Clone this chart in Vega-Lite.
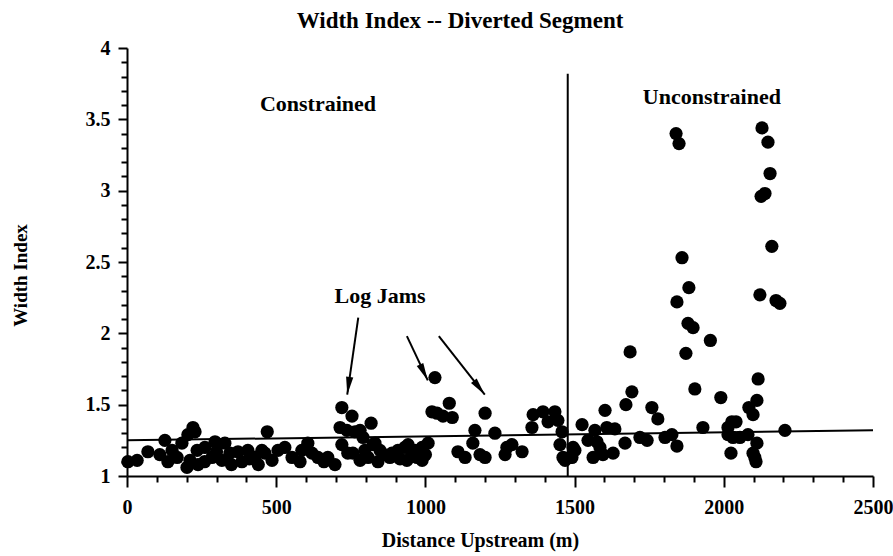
{
  "$schema": "https://vega.github.io/schema/vega-lite/v6.json",
  "width": 746,
  "height": 428,
  "autosize": "none",
  "padding": {"left": 127, "top": 48, "right": 20, "bottom": 80},
  "background": "white",
  "title": {"text": "Width Index -- Diverted Segment", "font": "Liberation Serif", "fontSize": 23, "fontWeight": "bold", "color": "black", "dx": -40, "offset": 5},
  "config": {"view": {"stroke": null}},
  "datasets": {
    "pts": [
      {"d":3,"w":1.10},{"d":34,"w":1.11},{"d":70,"w":1.17},{"d":110,"w":1.15},{"d":127,"w":1.25},{"d":137,"w":1.10},{"d":151,"w":1.18},{"d":168,"w":1.13},{"d":184,"w":1.23},{"d":201,"w":1.06},{"d":204,"w":1.29},{"d":211,"w":1.11},{"d":221,"w":1.34},{"d":228,"w":1.31},{"d":235,"w":1.18},{"d":238,"w":1.08},{"d":260,"w":1.10},{"d":261,"w":1.20},{"d":285,"w":1.13},{"d":295,"w":1.24},{"d":300,"w":1.17},{"d":318,"w":1.11},{"d":328,"w":1.23},{"d":345,"w":1.16},{"d":350,"w":1.08},{"d":372,"w":1.17},{"d":385,"w":1.10},{"d":405,"w":1.18},{"d":410,"w":1.12},{"d":429,"w":1.13},{"d":440,"w":1.08},{"d":452,"w":1.18},{"d":462,"w":1.16},{"d":470,"w":1.31},{"d":486,"w":1.11},
      {"d":506,"w":1.18},{"d":529,"w":1.20},{"d":553,"w":1.13},{"d":580,"w":1.10},{"d":586,"w":1.18},{"d":606,"w":1.23},{"d":620,"w":1.16},{"d":640,"w":1.13},{"d":660,"w":1.10},{"d":673,"w":1.13},{"d":697,"w":1.08},{"d":714,"w":1.34},{"d":720,"w":1.48},{"d":720,"w":1.22},{"d":737,"w":1.32},{"d":740,"w":1.16},{"d":754,"w":1.42},{"d":757,"w":1.16},{"d":764,"w":1.31},{"d":781,"w":1.32},{"d":781,"w":1.11},{"d":791,"w":1.27},{"d":797,"w":1.18},{"d":808,"w":1.13},{"d":818,"w":1.37},{"d":824,"w":1.22},{"d":831,"w":1.23},{"d":841,"w":1.10},{"d":848,"w":1.18},{"d":860,"w":1.15},{"d":881,"w":1.13},{"d":888,"w":1.16},{"d":908,"w":1.18},{"d":915,"w":1.12},{"d":931,"w":1.20},{"d":938,"w":1.11},{"d":942,"w":1.22},{"d":955,"w":1.16},{"d":965,"w":1.18},{"d":972,"w":1.13},{"d":989,"w":1.11},{"d":989,"w":1.20},{"d":1000,"w":1.15},
      {"d":1009,"w":1.23},{"d":1022,"w":1.45},{"d":1032,"w":1.69},{"d":1039,"w":1.44},{"d":1059,"w":1.42},{"d":1080,"w":1.51},{"d":1090,"w":1.41},{"d":1109,"w":1.17},{"d":1133,"w":1.13},{"d":1159,"w":1.23},{"d":1166,"w":1.32},{"d":1183,"w":1.15},{"d":1200,"w":1.44},{"d":1200,"w":1.13},{"d":1233,"w":1.30},{"d":1267,"w":1.15},{"d":1273,"w":1.20},{"d":1290,"w":1.22},{"d":1324,"w":1.17},{"d":1357,"w":1.34},{"d":1361,"w":1.43},{"d":1394,"w":1.45},{"d":1411,"w":1.38},{"d":1434,"w":1.45},{"d":1444,"w":1.39},{"d":1451,"w":1.22},{"d":1458,"w":1.31},{"d":1461,"w":1.13},{"d":1468,"w":1.11},
      {"d":1484,"w":1.13},{"d":1491,"w":1.13},{"d":1495,"w":1.20},{"d":1501,"w":1.18},{"d":1525,"w":1.36},{"d":1545,"w":1.25},{"d":1562,"w":1.13},{"d":1568,"w":1.32},{"d":1575,"w":1.24},{"d":1585,"w":1.20},{"d":1595,"w":1.15},{"d":1602,"w":1.46},{"d":1608,"w":1.34},{"d":1629,"w":1.16},{"d":1635,"w":1.33},{"d":1669,"w":1.23},{"d":1672,"w":1.50},{"d":1686,"w":1.87},{"d":1692,"w":1.59},{"d":1719,"w":1.27},{"d":1743,"w":1.25},{"d":1759,"w":1.48},{"d":1779,"w":1.40},{"d":1803,"w":1.27},{"d":1826,"w":1.29},{"d":1840,"w":3.40},{"d":1843,"w":1.21},{"d":1843,"w":2.22},{"d":1850,"w":3.33},{"d":1860,"w":2.53},{"d":1873,"w":1.86},{"d":1880,"w":2.07},{"d":1883,"w":2.32},{"d":1897,"w":2.04},{"d":1903,"w":1.61},{"d":1930,"w":1.34},{"d":1955,"w":1.95},{"d":1990,"w":1.55},{"d":2014,"w":1.34},{"d":2014,"w":1.29},{"d":2024,"w":1.16},{"d":2027,"w":1.38},{"d":2031,"w":1.27},{"d":2041,"w":1.38},{"d":2054,"w":1.27},{"d":2081,"w":1.29},{"d":2084,"w":1.48},{"d":2098,"w":1.43},{"d":2098,"w":1.16},{"d":2104,"w":1.13},{"d":2108,"w":1.10},{"d":2111,"w":1.53},{"d":2111,"w":1.23},{"d":2115,"w":1.68},{"d":2121,"w":2.27},{"d":2125,"w":2.96},{"d":2128,"w":3.44},{"d":2138,"w":2.98},{"d":2148,"w":3.34},{"d":2155,"w":3.12},{"d":2161,"w":2.61},{"d":2175,"w":2.23},{"d":2188,"w":2.21},{"d":2205,"w":1.32}
    ],
    "trend": [{"d":0,"w":1.25,"d2":2500,"w2":1.32}],
    "divider": [{"d":1477,"w":1.0,"d2":1477,"w2":3.82}],
    "labels": [
      {"d":640,"w":3.61,"t":"Constrained"},
      {"d":1960,"w":3.66,"t":"Unconstrained"},
      {"d":848,"w":2.26,"t":"Log Jams"}
    ],
    "arrows": [
      {"id":1,"d":775,"w":2.11,"d2":738,"w2":1.57},
      {"id":2,"d":938,"w":1.98,"d2":1008,"w2":1.67},
      {"id":3,"d":1045,"w":1.98,"d2":1199,"w2":1.57}
    ],
    "heads": [
      {"id":1,"d":738,"w":1.57},
      {"id":2,"d":1008,"w":1.67},
      {"id":3,"d":1199,"w":1.57}
    ]
  },
  "encoding": {
    "x": {"field": "d", "type": "quantitative", "scale": {"domain": [0, 2500], "nice": false, "zero": false},
      "axis": {"title": "Distance Upstream (m)", "values": [0,100,200,300,400,500,600,700,800,900,1000,1100,1200,1300,1400,1500,1600,1700,1800,1900,2000,2100,2200,2300,2400,2500],
        "labelExpr": "datum.value % 500 === 0 ? datum.label : ''", "format": "d", "labelOverlap": false, "labelFlush": false,
        "grid": false, "domainColor": "black", "domainWidth": 2, "tickColor": "black", "tickWidth": 2,
        "tickSize": {"condition": {"test": "datum.value % 500 === 0", "value": 11}, "value": 6},
        "labelFont": "Liberation Serif", "labelFontSize": 20, "labelFontWeight": "bold", "labelColor": "black", "labelPadding": 10,
        "titleFont": "Liberation Serif", "titleFontSize": 20, "titleFontWeight": "bold", "titleColor": "black",
        "titleX": 353, "titleY": 70, "titleAlign": "center", "titleBaseline": "alphabetic"}},
    "y": {"field": "w", "type": "quantitative", "scale": {"domain": [1, 4], "nice": false, "zero": false},
      "axis": {"title": "Width Index", "values": [1,1.1,1.2,1.3,1.4,1.5,1.6,1.7,1.8,1.9,2,2.1,2.2,2.3,2.4,2.5,2.6,2.7,2.8,2.9,3,3.1,3.2,3.3,3.4,3.5,3.6,3.7,3.8,3.9,4],
        "labelExpr": "abs(datum.value*2 - round(datum.value*2)) < 0.001 ? format(datum.value, '~g') : ''", "labelOverlap": false, "labelFlush": false,
        "grid": false, "domainColor": "black", "domainWidth": 2, "tickColor": "black", "tickWidth": 2,
        "tickSize": {"condition": {"test": "abs(datum.value*2 - round(datum.value*2)) < 0.001", "value": 9}, "value": 6},
        "labelFont": "Liberation Serif", "labelFontSize": 20, "labelFontWeight": "bold", "labelColor": "black", "labelPadding": 8,
        "titleFont": "Liberation Serif", "titleFontSize": 19, "titleFontWeight": "bold", "titleColor": "black",
        "titleX": -107, "titleY": 227, "titleAlign": "center", "titleBaseline": "middle", "titleAngle": 270}}
  },
  "layer": [
    {
      "data": {"name": "pts"},
      "mark": {"type": "point", "filled": true, "shape": "circle", "size": 175, "color": "black", "opacity": 1}
    },
    {
      "data": {"name": "trend"},
      "mark": {"type": "rule", "color": "black", "strokeWidth": 2},
      "encoding": {"x2": {"field": "d2"}, "y2": {"field": "w2"}}
    },
    {
      "data": {"name": "divider"},
      "mark": {"type": "rule", "color": "black", "strokeWidth": 2},
      "encoding": {"x2": {"field": "d2"}, "y2": {"field": "w2"}}
    },
    {
      "data": {"name": "labels"},
      "mark": {"type": "text", "font": "Liberation Serif", "fontSize": 22, "fontWeight": "bold", "color": "black", "align": "center", "baseline": "middle"},
      "encoding": {"text": {"field": "t"}}
    },
    {
      "data": {"name": "arrows"},
      "mark": {"type": "rule", "color": "black", "strokeWidth": 2},
      "encoding": {"x2": {"field": "d2"}, "y2": {"field": "w2"}}
    },
    {
      "data": {"name": "heads"},
      "transform": [{"filter": "datum.id === 1"}],
      "mark": {"type": "point", "filled": true, "color": "black", "opacity": 1, "size": 260, "angle": 188, "shape": "M0,0L-0.45,2.2L0.45,2.2Z"}
    },
    {
      "data": {"name": "heads"},
      "transform": [{"filter": "datum.id === 2"}],
      "mark": {"type": "point", "filled": true, "color": "black", "opacity": 1, "size": 260, "angle": 154, "shape": "M0,0L-0.45,2.2L0.45,2.2Z"}
    },
    {
      "data": {"name": "heads"},
      "transform": [{"filter": "datum.id === 3"}],
      "mark": {"type": "point", "filled": true, "color": "black", "opacity": 1, "size": 260, "angle": 142, "shape": "M0,0L-0.45,2.2L0.45,2.2Z"}
    }
  ]
}
